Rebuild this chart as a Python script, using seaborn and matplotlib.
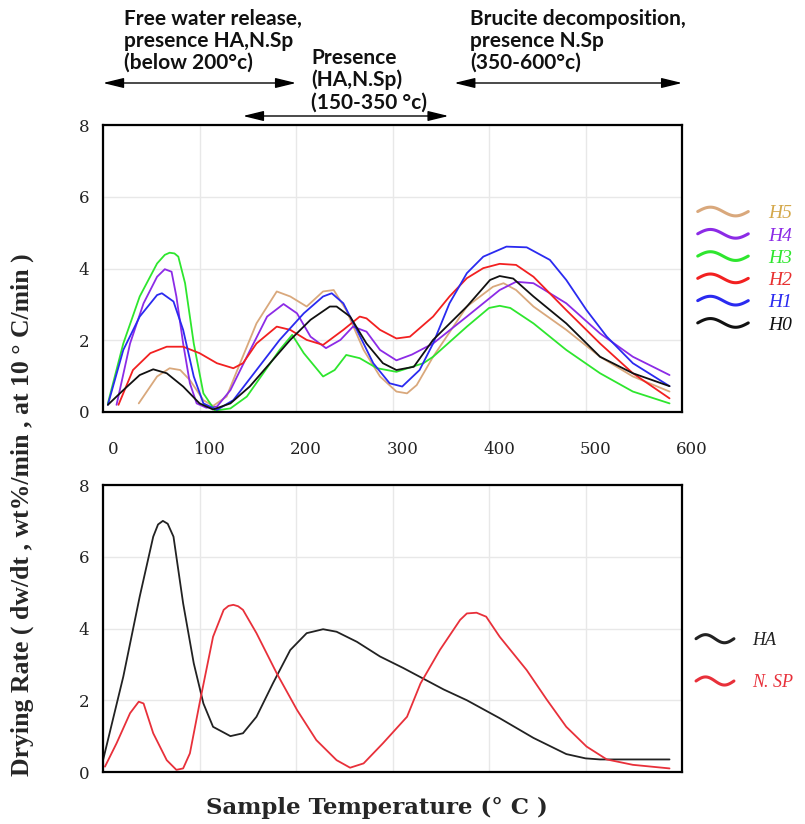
import numpy as np
import pandas as pd
import matplotlib
matplotlib.use("Agg")
import matplotlib.pyplot as plt
import matplotlib.transforms as mtransforms
from matplotlib.legend_handler import HandlerBase
from matplotlib.lines import Line2D
import seaborn as sns

# top panel: drying rate of mixes H0..H5 (temperature in C, rate in wt%/min)
h5_t = [37, 56, 69, 80, 90, 104, 114, 128, 142, 159, 180, 194, 211, 228, 239, 252, 270, 287, 304, 315, 325, 342, 377, 404, 415, 428, 446, 480, 515, 549, 587]
h5_v = [0.24, 0.99, 1.22, 1.17, 0.89, 0.33, 0.17, 0.43, 1.36, 2.47, 3.36, 3.22, 2.94, 3.36, 3.40, 2.84, 1.73, 0.99, 0.57, 0.52, 0.75, 1.54, 2.94, 3.49, 3.59, 3.40, 2.94, 2.29, 1.54, 0.99, 0.57]

h4_t = [14, 28, 42, 56, 64, 71, 76, 83, 90, 97, 107, 118, 132, 149, 170, 187, 201, 215, 231, 246, 259, 273, 287, 304, 320, 342, 377, 411, 428, 446, 480, 515, 549, 587]
h4_v = [0.20, 1.91, 3.03, 3.77, 3.98, 3.91, 3.22, 1.91, 0.80, 0.24, 0.12, 0.15, 0.61, 1.54, 2.66, 3.01, 2.75, 2.10, 1.78, 2.01, 2.38, 2.24, 1.73, 1.44, 1.60, 1.91, 2.66, 3.40, 3.63, 3.59, 3.03, 2.19, 1.54, 1.03]

h3_t = [5, 21, 38, 56, 64, 69, 74, 78, 85, 94, 104, 116, 132, 149, 166, 183, 196, 208, 228, 240, 252, 266, 284, 304, 332, 342, 377, 400, 411, 422, 446, 480, 515, 549, 587]
h3_v = [0.24, 1.91, 3.22, 4.14, 4.38, 4.44, 4.42, 4.33, 3.59, 1.91, 0.52, 0.04, 0.10, 0.43, 1.08, 1.73, 2.15, 1.64, 0.99, 1.17, 1.59, 1.50, 1.22, 1.12, 1.36, 1.54, 2.38, 2.90, 2.96, 2.90, 2.47, 1.73, 1.08, 0.57, 0.24]

h2_t = [16, 31, 49, 66, 83, 100, 118, 135, 145, 159, 180, 194, 211, 228, 249, 266, 273, 287, 304, 318, 342, 359, 377, 394, 411, 428, 446, 480, 515, 549, 587]
h2_v = [0.20, 1.17, 1.64, 1.82, 1.82, 1.64, 1.36, 1.22, 1.36, 1.91, 2.38, 2.29, 2.01, 1.87, 2.29, 2.66, 2.61, 2.29, 2.05, 2.10, 2.66, 3.22, 3.73, 4.01, 4.13, 4.10, 3.77, 2.84, 1.91, 1.08, 0.38]

h1_t = [5, 21, 38, 56, 61, 73, 83, 94, 104, 118, 135, 159, 183, 208, 228, 237, 249, 263, 280, 297, 310, 328, 342, 359, 377, 394, 418, 439, 463, 480, 501, 522, 549, 587]
h1_v = [0.20, 1.73, 2.66, 3.26, 3.31, 3.08, 2.29, 0.99, 0.24, 0.06, 0.33, 1.17, 2.01, 2.75, 3.22, 3.31, 3.03, 2.29, 1.36, 0.80, 0.71, 1.17, 1.91, 3.03, 3.87, 4.33, 4.61, 4.59, 4.24, 3.68, 2.84, 2.10, 1.36, 0.72]

h0_t = [5, 21, 38, 52, 66, 83, 100, 114, 132, 152, 173, 194, 215, 235, 242, 256, 273, 290, 304, 322, 342, 377, 401, 411, 425, 446, 480, 515, 549, 587]
h0_v = [0.20, 0.61, 1.03, 1.19, 1.08, 0.71, 0.24, 0.07, 0.24, 0.71, 1.36, 2.01, 2.57, 2.94, 2.94, 2.66, 1.91, 1.36, 1.17, 1.26, 2.01, 2.94, 3.68, 3.79, 3.72, 3.22, 2.47, 1.54, 1.08, 0.72]

# bottom panel: HA and N.SP alone
ha_t = [0, 21, 38, 52, 57, 62, 67, 73, 83, 94, 104, 114, 132, 145, 159, 176, 194, 211, 228, 242, 263, 287, 311, 332, 353, 377, 411, 446, 480, 500, 515, 549, 587]
ha_v = [0.33, 2.66, 4.89, 6.56, 6.90, 7.00, 6.92, 6.56, 4.70, 3.03, 1.91, 1.26, 1.00, 1.08, 1.54, 2.47, 3.40, 3.87, 3.98, 3.91, 3.63, 3.22, 2.90, 2.60, 2.30, 2.00, 1.50, 0.95, 0.50, 0.38, 0.35, 0.35, 0.35]

nsp_t = [2, 14, 28, 37, 42, 52, 66, 76, 83, 90, 100, 114, 125, 130, 135, 140, 145, 159, 180, 201, 221, 242, 256, 270, 290, 315, 329, 349, 370, 377, 387, 397, 411, 439, 460, 480, 501, 522, 549, 587]
nsp_v = [0.15, 0.80, 1.64, 1.96, 1.91, 1.08, 0.33, 0.06, 0.10, 0.52, 1.91, 3.77, 4.52, 4.63, 4.66, 4.62, 4.52, 3.87, 2.75, 1.73, 0.89, 0.33, 0.12, 0.24, 0.80, 1.54, 2.47, 3.40, 4.24, 4.42, 4.44, 4.33, 3.77, 2.84, 2.01, 1.26, 0.71, 0.35, 0.20, 0.10]

top_names = ["H5", "H4", "H3", "H2", "H1", "H0"]
top_colors = ["#d9a87c", "#8c2be6", "#2ee62e", "#f22020", "#2a2af0", "#111111"]
top_label_colors = ["#d4a84a", "#8c2be6", "#2ee62e", "#e83030", "#2a2af0", "#111111"]
bot_names = ["HA", "N. SP"]
bot_colors = ["#222222", "#e8303a"]

x_ticks = [0, 100, 200, 300, 400, 500, 600]
y_ticks = [0, 2, 4, 6, 8]

# temperature ranges marked by the arrows above the chart
arrow_ranges = [(0, 200), (145, 358), (364, 600)]

top_df = pd.concat([
    pd.DataFrame({"T": t, "rate": v, "mix": n})
    for n, t, v in zip(top_names, [h5_t, h4_t, h3_t, h2_t, h1_t, h0_t],
                       [h5_v, h4_v, h3_v, h2_v, h1_v, h0_v])
])
bot_df = pd.concat([
    pd.DataFrame({"T": t, "rate": v, "mix": n})
    for n, t, v in zip(bot_names, [ha_t, nsp_t], [ha_v, nsp_v])
])

sns.set_style("whitegrid", {"grid.color": "#e8e8e8", "axes.edgecolor": "black"})


class WaveHandler(HandlerBase):
    # legend key drawn as a little "~"
    def create_artists(self, legend, orig_handle, xdescent, ydescent,
                       width, height, fontsize, trans):
        xs = np.linspace(0, width, 50)
        ys = height / 2 + 0.32 * height * np.sin(2 * np.pi * xs / width)
        ln = Line2D(xs - xdescent, ys - ydescent, color=orig_handle.get_color(),
                    lw=orig_handle.get_linewidth(), solid_capstyle="round")
        ln.set_transform(trans)
        return [ln]


fig = plt.figure(figsize=(8.05, 8.24), dpi=100)
ax1 = fig.add_axes([0.128, 0.5, 0.7193, 0.3483])
ax2 = fig.add_axes([0.128, 0.0631, 0.7193, 0.3483])

sns.lineplot(data=top_df, x="T", y="rate", hue="mix", hue_order=top_names,
             palette=dict(zip(top_names, top_colors)), estimator=None, sort=False,
             linewidth=1.3, legend=False, ax=ax1)
sns.lineplot(data=bot_df, x="T", y="rate", hue="mix", hue_order=bot_names,
             palette=dict(zip(bot_names, bot_colors)), estimator=None, sort=False,
             linewidth=1.3, legend=False, ax=ax2)

tick_font = dict(family="DejaVu Serif", size=12)
shift = mtransforms.ScaledTranslation(10 / 100, 0, fig.dpi_scale_trans)
for ax in (ax1, ax2):
    ax.set_xlim(0, 600)
    ax.set_ylim(0, 8)
    ax.set_xticks(x_ticks)
    ax.set_yticks(y_ticks)
    ax.set_xlabel("")
    ax.set_ylabel("")
    ax.grid(True, color="#e8e8e8", linewidth=1)
    for s in ax.spines.values():
        s.set_color("black")
        s.set_linewidth(1.6)
    ax.tick_params(length=0, colors="#222222")
    ax.tick_params(axis="y", pad=10)
    ax.set_yticklabels([str(v) for v in y_ticks], **tick_font)

ax1.tick_params(axis="x", pad=21)
ax1.set_xticklabels([str(v) for v in x_ticks], **tick_font)
for lab in ax1.get_xticklabels():
    lab.set_transform(lab.get_transform() + shift)
ax2.tick_params(axis="x", labelbottom=False)

# legends with wavy keys
handles = [Line2D([], [], color=c, lw=2.2) for c in top_colors]
leg1 = fig.legend(handles, top_names, handler_map={Line2D: WaveHandler()},
                  loc="upper left", bbox_to_anchor=(688 / 805, 1 - 195 / 824),
                  frameon=False, borderpad=0, handlelength=2.6, handletextpad=1.0,
                  labelspacing=0.24,
                  prop=dict(family="Liberation Serif", style="italic", size=14))
for txt, c in zip(leg1.get_texts(), top_label_colors):
    txt.set_color(c)

handles2 = [Line2D([], [], color=c, lw=2.2) for c in bot_colors]
leg2 = fig.legend(handles2, bot_names, handler_map={Line2D: WaveHandler()},
                  loc="upper left", bbox_to_anchor=(687 / 805, 1 - 623 / 824),
                  frameon=False, borderpad=0, handlelength=2.1, handletextpad=1.0,
                  labelspacing=1.4,
                  prop=dict(family="Liberation Serif", style="italic", size=13))
for txt, c in zip(leg2.get_texts(), bot_colors):
    txt.set_color(c)

# axis titles
fig.text(0.028, 1 - 515 / 824, "Drying Rate ( dw/dt , wt%/min , at 10 ° C/min )",
         rotation=90, ha="center", va="center", family="Liberation Serif",
         weight="bold", size=18.5)
fig.text(377 / 805, 1 - 808 / 824, "Sample Temperature (° C )", ha="center", va="center",
         family="DejaVu Serif", weight="bold", size=16.5)

# region notes above the top panel
note_font = dict(family="Lato", weight="bold", size=15, color="#111111", linespacing=1.12)
fig.text(124 / 805, 1 - 41 / 824, "Free water release,\npresence HA,N.Sp\n(below 200°c)",
         ha="left", va="center", **note_font)
fig.text(311 / 805, 1 - 80 / 824, "Presence\n(HA,N.Sp)\n(150-350 °c)",
         ha="left", va="center", **note_font)
fig.text(470 / 805, 1 - 41 / 824, "Brucite decomposition,\npresence N.Sp\n(350-600°c)",
         ha="left", va="center", **note_font)

arrow_y = [1 - 83 / 824, 1 - 116 / 824, 1 - 83 / 824]
blend = mtransforms.blended_transform_factory(ax1.transData, fig.transFigure)
for (x0, x1), yy in zip(arrow_ranges, arrow_y):
    ax1.annotate("", xy=(x1, yy), xytext=(x0, yy), xycoords=blend, textcoords=blend,
                 annotation_clip=False,
                 arrowprops=dict(arrowstyle="<|-|>,head_length=0.9,head_width=0.22",
                                 color="black", lw=1.0, shrinkA=0, shrinkB=0,
                                 mutation_scale=14))

fig.savefig("out.png", dpi=100)
